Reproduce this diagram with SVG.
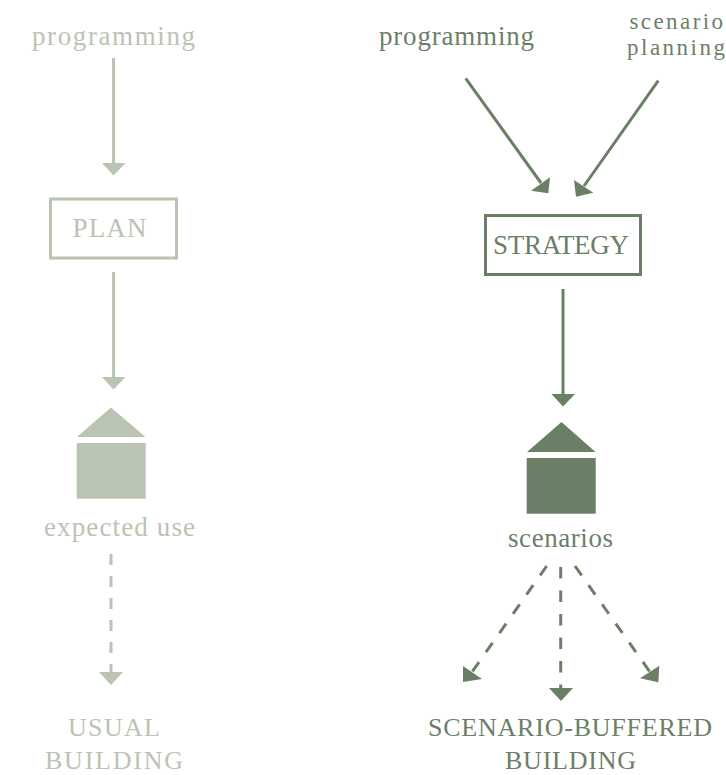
<svg xmlns="http://www.w3.org/2000/svg" width="726" height="775" viewBox="0 0 726 775">
<style>
text{font-family:"Liberation Serif",serif;font-size:27px}
text.l{fill:#bac4b2}
text.d{fill:#6b7f66}
text.tight{font-size:23px}
text.low{font-size:26px}
.lf{fill:#bac4b2}.df{fill:#6b7f66}
.ls{stroke:#bac4b2;stroke-width:3;fill:none}
.ds{stroke:#6b7f66;stroke-width:3;fill:none}
.dash{stroke-dasharray:11 11}
.dash2{stroke-dasharray:11.500 12}
</style>
<rect width="726" height="775" fill="#fff"/>
<g id="connectors">
<path class="ls" d="M113.5 58V164"/><polygon class="lf" points="102,163 125.500,163 113.500,175.500"/>
<path class="ls" d="M113.500 272V378"/><polygon class="lf" points="102,377 125.500,377 113.500,389.500"/>
<path class="ls dash" d="M111 554V673"/><polygon class="lf" points="99,672 123,672 111,685"/>
<path class="ds" d="M465.700 78.300L541 183"/><polygon class="df" points="548.300,193.300 550,177.300 531,190.700"/>
<path class="ds" d="M658.300 80.700L584 186"/><polygon class="df" points="576,196.700 574,180 593.300,192.700"/>
<path class="ds" d="M563 289V395"/><polygon class="df" points="551.500,394 575,394 563,406.500"/>
<path class="ds dash2" d="M546.700 566L472 672"/><polygon class="df" points="463,682 463,666 482,679"/>
<path class="ds dash2" d="M560.700 567V689"/><polygon class="df" points="549,688 573,688 561,701"/>
<path class="ds dash2" d="M575 566L650 672"/><polygon class="df" points="658.300,682.300 659.300,665.700 640,678.300"/>
</g>
<g id="left-programming"><text class="l" x="32" y="44.500" textLength="163">programming</text></g>
<g id="plan"><rect class="ls" x="50.500" y="199" width="126" height="59"/><text class="l" x="72.500" y="237" textLength="74">PLAN</text></g>
<g id="left-house"><polygon class="lf" points="77,437 145.500,437 111,407.500"/><rect class="lf" x="76.700" y="443" width="69" height="55.700"/></g>
<g id="expected-use"><text class="l" x="44" y="536" textLength="151">expected use</text></g>
<g id="usual-building"><text class="l low" x="68" y="736" textLength="92">USUAL</text><text class="l low" x="45" y="769" textLength="138">BUILDING</text></g>
<g id="right-programming"><text class="d" x="379" y="44.500" textLength="155">programming</text></g>
<g id="scenario-planning"><text class="d tight" x="629.500" y="29" textLength="93.500">scenario</text><text class="d tight" x="627" y="54.500" textLength="98">planning</text></g>
<g id="strategy"><rect class="ds" x="485.500" y="215.500" width="155" height="59"/><text class="d" x="493" y="254" textLength="136">STRATEGY</text></g>
<g id="right-house"><polygon class="df" points="527,452 595.500,452 561.500,422"/><rect class="df" x="526.700" y="458" width="69" height="55.700"/></g>
<g id="scenarios"><text class="d" x="508" y="547" textLength="105">scenarios</text></g>
<g id="scenario-buffered-building"><text class="d low" x="428" y="736" textLength="284">SCENARIO-BUFFERED</text><text class="d low" x="505" y="769" textLength="131">BUILDING</text></g>
</svg>
